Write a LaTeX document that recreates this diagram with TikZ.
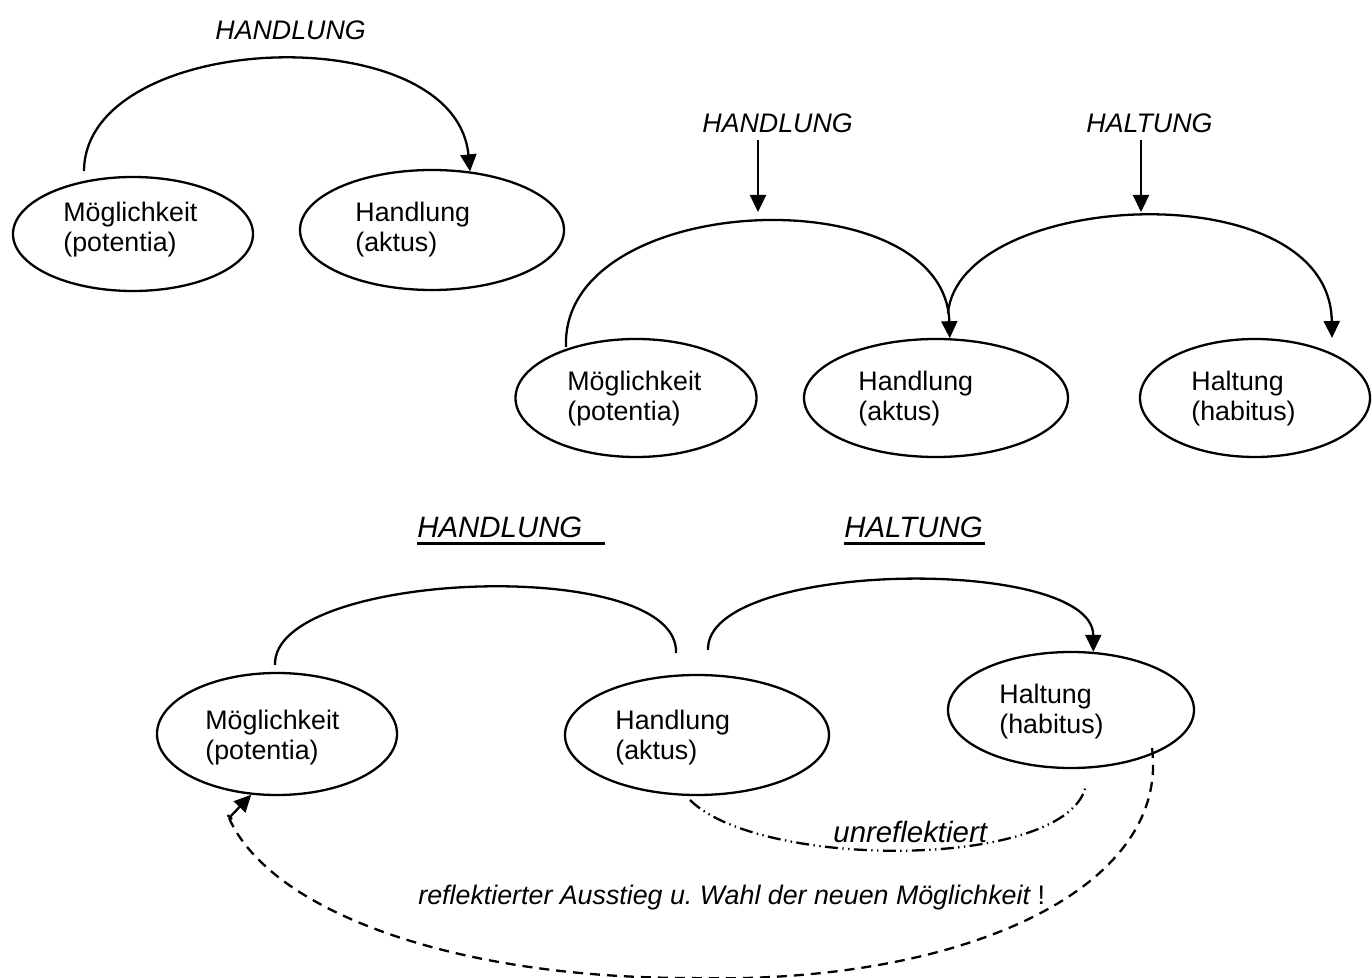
\documentclass[tikz,border=0pt]{standalone}
\usepackage{fontspec}
\setmainfont{Liberation Sans}
\usetikzlibrary{shapes.geometric,arrows.meta}
\newcommand\twol[2]{\vtop{\baselineskip=15pt\hbox{#1}\hbox{#2}}}
\newcommand\ulabel[2]{\rlap{\rule[-3.6pt]{#1}{1.5pt}}#2}
\frenchspacing
\begin{document}
\begin{tikzpicture}[x=0.5pt,y=-0.5pt,
  every node/.style={font=\fontsize{13.4pt}{15pt}\selectfont},
  oval/.style={draw,ellipse,line width=1.15pt,inner sep=0pt},
  txt/.style={anchor=base west,inner sep=0pt},
  lbl/.style={anchor=base west,inner sep=0pt,font=\fontsize{13.4pt}{15pt}\selectfont\itshape},
  biglbl/.style={anchor=base west,inner sep=0pt,font=\fontsize{14.7pt}{16pt}\selectfont\itshape},
  arc/.style={line width=1.15pt},
  tip/.style={-{Triangle[length=8.5pt,width=8pt]}},
  dd/.style={line width=1.15pt,dash pattern=on 6.5pt off 2.2pt on 0.7pt off 2.2pt on 0.7pt off 2.2pt},
  ds/.style={line width=1.15pt,dash pattern=on 5pt off 3.5pt}]
\useasboundingbox (0,0) rectangle (1372,978);

% ---- top-left group
\node[oval,minimum width=240pt*0.5,minimum height=114pt*0.5] (a1) at (133,234) {};
\node[oval,minimum width=264pt*0.5,minimum height=120pt*0.5] (a2) at (432,230) {};
\node[txt] (a1t) at (63,222) {\twol{Möglichkeit}{(potentia)}};
\node[txt] (a2t) at (355,222) {\twol{Handlung}{(aktus)}};
\node[lbl] (l1) at (215,39.5) {HANDLUNG};
\coordinate (a1s) at (84,171);
\draw[arc,tip] (a1s) .. controls (85,30) and (455,15) .. (a2.57);

% ---- middle group
\node[oval,minimum width=241pt*0.5,minimum height=118pt*0.5] (b1) at (636,398) {};
\node[oval,minimum width=264pt*0.5,minimum height=118pt*0.5] (b2) at (936,398) {};
\node[oval,minimum width=230pt*0.5,minimum height=118pt*0.5] (b3) at (1255,398) {};
\node[txt] (b1t) at (567,391) {\twol{Möglichkeit}{(potentia)}};
\node[txt] (b2t) at (858,391) {\twol{Handlung}{(aktus)}};
\node[txt] (b3t) at (1191,391) {\twol{Haltung}{(habitus)}};
\node[lbl] (l2) at (702,132.5) {HANDLUNG};
\node[lbl] (l3) at (1086,132.5) {HALTUNG};
\coordinate (v1a) at (758,140);
\coordinate (v1b) at (758,212);
\coordinate (v2a) at (1141,140);
\coordinate (v2b) at (1141,212);
\draw[arc,tip] (v1a) -- (v1b);
\draw[arc,tip] (v2a) -- (v2b);
\coordinate (b1s) at (566,347);
\coordinate (b2s) at (948,313);
\coordinate (b3e) at (1332,338);
\draw[arc,tip] (b1s) .. controls (560,190) and (945,175) .. (b2.77);
\draw[arc,tip] (b2s) .. controls (960,190) and (1330,170) .. (b3e);

% ---- bottom group
\node[oval,minimum width=240pt*0.5,minimum height=122pt*0.5] (c1) at (277,734) {};
\node[oval,minimum width=264pt*0.5,minimum height=120pt*0.5] (c2) at (697,735) {};
\node[oval,minimum width=246pt*0.5,minimum height=116pt*0.5] (c3) at (1071,710) {};
\node[txt] (c1t) at (205,729) {\twol{Möglichkeit}{(potentia)}};
\node[txt] (c2t) at (615,729) {\twol{Handlung}{(aktus)}};
\node[txt] (c3t) at (999,704) {\twol{Haltung}{(habitus)}};
\node[biglbl] (l4) at (417,537.5) {\ulabel{94pt}{HANDLUNG}};
\node[biglbl] (l5) at (844,537.5) {\ulabel{70.5pt}{HALTUNG}};
\coordinate (c1s) at (275,665);
\coordinate (c2e) at (676,653);
\coordinate (c2s) at (708,650);
\draw[arc] (c1s) .. controls (272,570) and (680,555) .. (c2e);
\draw[arc,tip] (c2s) .. controls (705,560) and (1093,555) .. (c3.69);

% unreflektiert
\coordinate (u1) at (690,800);
\coordinate (u2) at (1086,785);
\draw[dd] (u1) .. controls (760,870) and (1070,870) .. (u2);
\node[biglbl] (ut) at (833,842) {unreflektiert};

% reflektierter Ausstieg
\coordinate (r0) at (1152,748);
\coordinate (rm) at (690,978);
\coordinate (r1) at (229,818);
\draw[ds] (r0) .. controls (1170,890) and (960,985) .. (rm)
               .. controls (450,978) and (270,910) .. (r1);
\draw[line width=1.15pt,{Bar[width=3pt]}-{Triangle[length=8.5pt,width=8pt]}] (r1) -- (c1.247);
\node[lbl] (rt) at (418,904) {reflektierter Ausstieg u. Wahl der neuen Möglichkeit \upshape!};
\end{tikzpicture}
\end{document}
